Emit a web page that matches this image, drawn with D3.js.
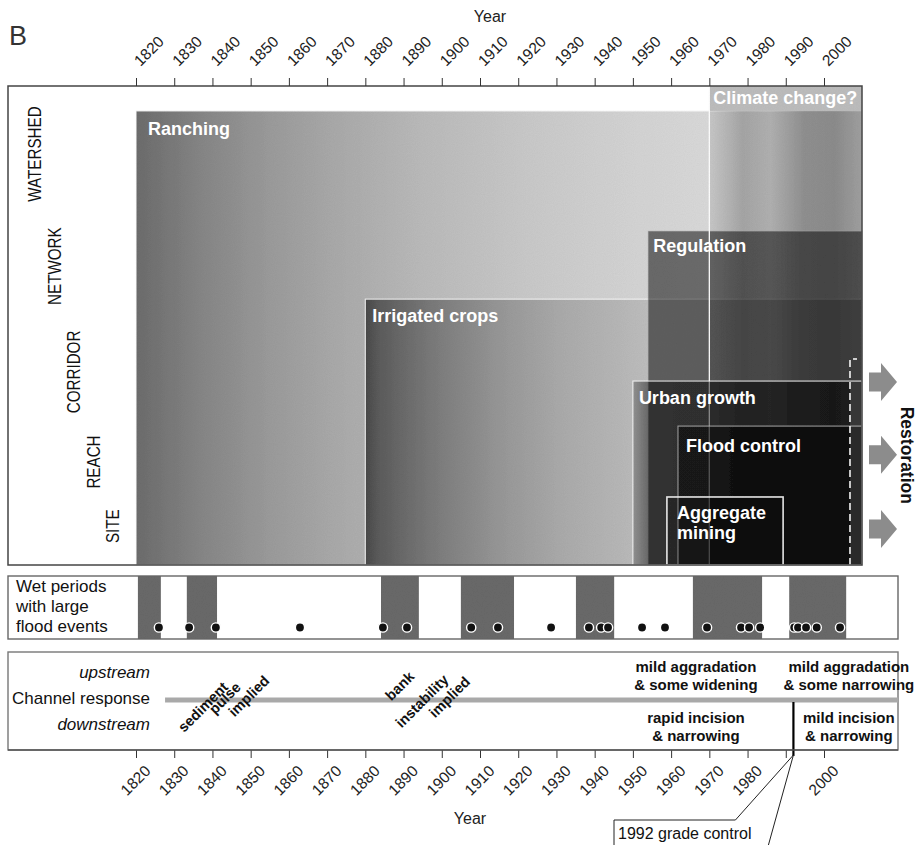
<!DOCTYPE html>
<html>
<head>
<meta charset="utf-8">
<script src="https://cdn.jsdelivr.net/npm/d3@7"></script>
<style>
  body { margin: 0; background: #fff; }
  svg { display: block; }
  text { font-family: "Liberation Sans", Arial, sans-serif; }
</style>
</head>
<body>
<script>
// ---- data ----
const tickYears = [1820, 1830, 1840, 1850, 1860, 1870, 1880, 1890, 1900, 1910,
                   1920, 1930, 1940, 1950, 1960, 1970, 1980, 1990, 2000];
const bottomHidden = [1990];

// spatial scale levels, 0 = site ... 100 = watershed
const levels = ["WATERSHED", "NETWORK", "CORRIDOR", "REACH", "SITE"];
const levelPos = [85.8, 62.4, 40.3, 21.5, 8.1];

// drivers of change: start year, end year (null = still going), spatial extent
const drivers = ["Ranching", "Irrigated crops", "Climate change?", "Regulation",
                 "Urban growth", "Flood control", "Aggregate mining"];
const driverStart = [1820, 1880, 1970, 1954, 1950, 1961.8, 1958.9];
const driverEnd = [null, null, null, null, null, null, 1989.3];
const driverExtent = [94.8, 55.5, 100, 69.7, 38.4, 29.0, 14.2];

const restorationStart = 2006.8;
const restorationExtent = 43.0;
const restorationArrows = [38.2, 23.0, 7.5];

// wet periods and large floods
const wetStart = [1820.5, 1833.3, 1884.1, 1905.0, 1935.1, 1965.7, 1990.9];
const wetEnd = [1826.5, 1841.2, 1894.0, 1918.9, 1945.1, 1983.8, 2005.8];
const floodYears = [1826.0, 1833.9, 1840.9, 1862.9, 1884.6, 1890.9, 1907.7, 1914.7,
                    1928.6, 1938.5, 1941.7, 1943.5, 1952.4, 1958.4, 1969.4, 1978.3,
                    1980.4, 1983.3, 1992.2, 1993.2, 1995.3, 1998.1, 2004.2];

// channel response
const channelStart = 1827.6;
const gradeControlYear = 1992;
const impliedWords = ["sediment", "pulse", "implied", "bank", "instability", "implied"];
const impliedYears = [1837.5, 1843.2, 1849.5, 1889, 1894.8, 1902];
const responseYears = [1966.5, 2006.5];
const responseUp = [["mild aggradation", "& some widening"], ["mild aggradation", "& some narrowing"]];
const responseDown = [["rapid incision", "& narrowing"], ["mild incision", "& narrowing"]];

// ---- layout ----
const W = 918, H = 845;
const main = {left: 8, right: 862, top: 86, bottom: 565};
const wet = {top: 576, bottom: 639};
const chan = {top: 652, bottom: 750, line: 700};
const lowerRight = 898;

const x = d3.scaleLinear().domain([1820, 2000]).range([136, 824]);
const y = d3.scaleLinear().domain([0, 100]).range([main.bottom, main.top]);
const ongoing = x.invert(main.right);

const svg = d3.select("body").append("svg")
  .attr("width", W)
  .attr("height", H);

const defs = svg.append("defs");
function grad(id, stops) {
  const g = defs.append("linearGradient").attr("id", id);
  stops.forEach(s => g.append("stop")
    .attr("offset", s[0]).attr("stop-color", s[1]).attr("stop-opacity", s[2] == null ? 1 : s[2]));
}
grad("g-ranch", [[0, "#6d6d6d"], [0.09, "#878787"], [0.18, "#9b9b9b"], [0.27, "#aaaaaa"],
                 [0.4, "#bcbcbc"], [0.55, "#cbcbcb"], [0.69, "#d5d5d5"], [0.79, "#dadada"], [1, "#dcdcdc"]]);
grad("g-irr", [[0, "#4a4a4a"], [0.025, "#5c5c5c"], [0.07, "#6a6a6a"], [0.15, "#7f7f7f"],
               [0.27, "#989898"], [0.39, "#ababab"], [0.51, "#b8b8b8"], [0.57, "#bfbfbf"], [1, "#b4b4b4"]]);
grad("g-clim", [[0, "#000", 0.08], [0.22, "#000", 0.24], [0.4, "#000", 0.19],
                [0.62, "#000", 0.34], [0.82, "#000", 0.36], [1, "#000", 0.27]]);
grad("g-urban", [[0, "#000", 0.22], [0.07, "#000", 0.45], [1, "#000", 0.47]]);

// texture noise like the printed figure
const noise = defs.append("filter").attr("id", "noise");
noise.append("feTurbulence").attr("type", "fractalNoise").attr("baseFrequency", 0.9)
  .attr("numOctaves", 1).attr("result", "n");
noise.append("feColorMatrix").attr("in", "n").attr("type", "matrix")
  .attr("values", "0 0 0 0 0  0 0 0 0 0  0 0 0 0 0  0 0 0 0.09 0").attr("result", "na");
noise.append("feComposite").attr("in", "na").attr("in2", "SourceGraphic").attr("operator", "in").attr("result", "nm");
noise.append("feMerge").selectAll("feMergeNode").data(["SourceGraphic", "nm"]).join("feMergeNode").attr("in", d => d);

const style = {
  "Ranching":          {fill: "url(#g-ranch)", stroke: "#fff", so: 0.9, lx: 12, ly: 24},
  "Irrigated crops":   {fill: "url(#g-irr)", stroke: "#fff", so: 0.85, lx: 7, ly: 23},
  "Climate change?":   {fill: "url(#g-clim)", stroke: "none", so: 0, lx: 4, ly: 18},
  "Regulation":        {fill: "#000", fo: 0.5, stroke: "#aaa", so: 0.4, lx: 5, ly: 21},
  "Urban growth":      {fill: "url(#g-urban)", stroke: "#fff", so: 0.85, lx: 6, ly: 23},
  "Flood control":     {fill: "#000", fo: 0.38, stroke: "#ccc", so: 0.7, lx: 8, ly: 26},
  "Aggregate mining":  {fill: "#000", fo: 0.15, stroke: "#fff", so: 0.9, lx: 10, ly: 22}
};

const boxes = drivers.map((d, i) => ({
  name: d,
  x0: x(driverStart[i]),
  x1: x(driverEnd[i] == null ? ongoing : driverEnd[i]),
  y0: y(driverExtent[i])
}));

const gMain = svg.append("g").attr("filter", "url(#noise)");
const climate = boxes.find(b => b.name === "Climate change?");
const ranch = boxes.find(b => b.name === "Ranching");

boxes.forEach(b => {
  const s = style[b.name];
  if (b.name === "Climate change?") {
    // label band above ranching, then the overlay
    gMain.append("rect")
      .attr("x", b.x0).attr("y", b.y0)
      .attr("width", b.x1 - b.x0).attr("height", ranch.y0 - b.y0)
      .attr("fill", "#bebebe");
    gMain.append("rect")
      .attr("x", b.x0).attr("y", ranch.y0)
      .attr("width", b.x1 - b.x0).attr("height", main.bottom - ranch.y0)
      .attr("fill", s.fill);
    return;
  }
  gMain.append("rect")
    .attr("x", b.x0).attr("y", b.y0)
    .attr("width", b.x1 - b.x0).attr("height", main.bottom - b.y0)
    .attr("fill", s.fill)
    .attr("fill-opacity", s.fo == null ? 1 : s.fo)
    .attr("stroke", s.stroke)
    .attr("stroke-opacity", s.so)
    .attr("stroke-width", b.name === "Aggregate mining" ? 1.6 : 1.1);
  if (b.name === "Regulation") {
    // left edge of the climate-change window shows through
    gMain.append("line")
      .attr("x1", climate.x0).attr("x2", climate.x0)
      .attr("y1", main.top).attr("y2", main.bottom)
      .attr("stroke", "#fff").attr("stroke-width", 1.3);
  }
});

// restoration window
const rx = x(restorationStart), ry = y(restorationExtent);
svg.append("rect")
  .attr("x", rx).attr("y", ry + 22)
  .attr("width", main.right - rx).attr("height", main.bottom - ry - 22)
  .attr("fill", "#fff").attr("fill-opacity", 0.12);
svg.append("path")
  .attr("d", `M${rx},${main.bottom}V${ry}H${rx + 7}`)
  .attr("fill", "none").attr("stroke", "#fff")
  .attr("stroke-width", 1.5).attr("stroke-dasharray", "7,4");

// driver labels
boxes.forEach(b => {
  const s = style[b.name];
  const words = b.name === "Aggregate mining" ? ["Aggregate", "mining"] : [b.name];
  words.forEach((w, i) => svg.append("text")
    .attr("x", b.x0 + s.lx).attr("y", b.y0 + s.ly + i * 20)
    .attr("fill", "#fff").attr("font-weight", "bold").attr("font-size", 18)
    .text(w));
});

// main frame
svg.append("rect")
  .attr("x", main.left).attr("y", main.top)
  .attr("width", main.right - main.left).attr("height", main.bottom - main.top)
  .attr("fill", "none").attr("stroke", "#444").attr("stroke-width", 1.5);

// spatial level labels (staircase)
levels.forEach((l, i) => {
  const t = svg.append("text")
    .attr("transform", `translate(${41 + i * 19.5},${y(levelPos[i])}) rotate(-90)`)
    .attr("text-anchor", "middle")
    .attr("font-family", "'Open Sans', sans-serif")
    .attr("font-size", 19).attr("fill", "#111")
    .text(l);
  const len = t.node().getComputedTextLength();
  t.attr("textLength", len * 0.8).attr("lengthAdjust", "spacingAndGlyphs");
});

// restoration arrows
restorationArrows.forEach(v => {
  const cy = y(v), ax = main.right + 7;
  svg.append("path")
    .attr("d", `M${ax},${cy - 9.5}H${ax + 12}V${cy - 19}L${ax + 28},${cy}L${ax + 12},${cy + 19}V${cy + 9.5}H${ax}Z`)
    .attr("fill", "#8c8c8c");
});
svg.append("text")
  .attr("transform", `translate(901,${y(d3.mean(restorationArrows))}) rotate(90)`)
  .attr("text-anchor", "middle")
  .attr("font-weight", "bold").attr("font-size", 17.5).attr("fill", "#111")
  .text("Restoration");

// top axis
const axTop = svg.append("g")
  .attr("transform", `translate(0,${main.top})`)
  .call(d3.axisTop(x).tickValues(tickYears).tickSize(8).tickFormat(d3.format("d")));
axTop.select(".domain").remove();
axTop.selectAll("line").attr("stroke", "#333");
axTop.selectAll("text")
  .attr("x", null).attr("y", null).attr("dy", null)
  .attr("text-anchor", "start")
  .attr("transform", "translate(4,-19) rotate(-45)")
  .attr("font-size", 15.5).attr("fill", "#222")
  .attr("font-family", "'Liberation Sans', Arial, sans-serif");

svg.append("text")
  .attr("x", 490).attr("y", 22)
  .attr("text-anchor", "middle").attr("font-size", 16).attr("fill", "#222")
  .text("Year");
svg.append("text")
  .attr("x", 9).attr("y", 45)
  .attr("font-family", "'Open Sans', sans-serif")
  .attr("font-size", 27).attr("fill", "#333")
  .text("B");

// wet periods panel
const gWet = svg.append("g");
gWet.selectAll("rect.wet")
  .data(wetStart.map((s, i) => [s, wetEnd[i]]))
  .join("rect")
  .attr("class", "wet")
  .attr("x", d => x(d[0])).attr("width", d => x(d[1]) - x(d[0]))
  .attr("y", wet.top).attr("height", wet.bottom - wet.top)
  .attr("fill", "#6a6a6a")
  .attr("filter", "url(#noise)");
gWet.selectAll("circle")
  .data(floodYears)
  .join("circle")
  .attr("cx", d => x(d)).attr("cy", 627.5).attr("r", 4.6)
  .attr("fill", "#111").attr("stroke", "#fff").attr("stroke-width", 1.4);
gWet.append("rect")
  .attr("x", main.left).attr("y", wet.top)
  .attr("width", lowerRight - main.left).attr("height", wet.bottom - wet.top)
  .attr("fill", "none").attr("stroke", "#666").attr("stroke-width", 1.4);
["Wet periods", "with large", "flood events"].forEach((s, i) =>
  gWet.append("text").attr("x", 16).attr("y", 592 + i * 20)
    .attr("font-size", 17).attr("fill", "#111").text(s));

// channel response panel
const gCh = svg.append("g");
gCh.append("rect")
  .attr("x", main.left).attr("y", chan.top)
  .attr("width", lowerRight - main.left).attr("height", chan.bottom - chan.top)
  .attr("fill", "none").attr("stroke", "#777").attr("stroke-width", 1.4);
gCh.append("line")
  .attr("x1", x(channelStart)).attr("x2", lowerRight)
  .attr("y1", chan.line).attr("y2", chan.line)
  .attr("stroke", "#a9a9a9").attr("stroke-width", 5);
[["upstream", -22, "italic"], ["Channel response", 4, "normal"], ["downstream", 30, "italic"]]
  .forEach(r => gCh.append("text")
    .attr("x", 150).attr("y", chan.line + r[1])
    .attr("text-anchor", "end").attr("font-size", 17)
    .attr("font-style", r[2]).attr("fill", "#111")
    .text(r[0]));

const impliedDy = [7, -2, -4, -14, 1, -3];
impliedWords.forEach((w, i) => {
  gCh.append("text")
    .attr("transform", `translate(${x(impliedYears[i])},${chan.line + impliedDy[i]}) rotate(-45)`)
    .attr("text-anchor", "middle").attr("dy", "0.35em")
    .attr("font-size", 14.5).attr("font-weight", "bold").attr("fill", "#111")
    .text(w);
});

responseYears.forEach((yr, i) => {
  [[responseUp[i], chan.line - 28], [responseDown[i], chan.line + 23]].forEach(([lines, y0]) => {
    lines.forEach((s, j) => gCh.append("text")
      .attr("x", x(yr)).attr("y", y0 + j * 17.5)
      .attr("text-anchor", "middle").attr("font-size", 15)
      .attr("font-weight", "bold").attr("fill", "#111")
      .text(s));
  });
});

// grade control marker and callout
const gx = x(gradeControlYear);
gCh.append("line")
  .attr("x1", gx).attr("x2", gx)
  .attr("y1", chan.line + 2).attr("y2", chan.bottom + 6)
  .attr("stroke", "#000").attr("stroke-width", 2.2);
gCh.append("path")
  .attr("d", `M${gx},${chan.bottom + 5}L${gx - 58},820H614V845M${gx},${chan.bottom + 5}L${gx - 25},845`)
  .attr("fill", "none").attr("stroke", "#222").attr("stroke-width", 1);
gCh.append("text")
  .attr("x", 618).attr("y", 839)
  .attr("font-size", 16).attr("fill", "#111")
  .text("1992 grade control");

// bottom axis
const axBot = svg.append("g")
  .attr("transform", `translate(0,${chan.bottom})`)
  .call(d3.axisBottom(x).tickValues(tickYears).tickSize(8)
    .tickFormat(d => bottomHidden.includes(d) ? "" : d3.format("d")(d)));
axBot.select(".domain").remove();
axBot.selectAll("line").attr("stroke", "#333");
axBot.selectAll("text")
  .attr("x", null).attr("y", null).attr("dy", null)
  .attr("text-anchor", "end")
  .attr("transform", "translate(15,22) rotate(-45)")
  .attr("font-size", 15.5).attr("fill", "#222")
  .attr("font-family", "'Liberation Sans', Arial, sans-serif");
svg.append("line")
  .attr("x1", main.left).attr("x2", lowerRight)
  .attr("y1", chan.bottom).attr("y2", chan.bottom)
  .attr("stroke", "#555").attr("stroke-width", 1.5);

svg.append("text")
  .attr("x", 470).attr("y", 824)
  .attr("text-anchor", "middle").attr("font-size", 16).attr("fill", "#222")
  .text("Year");
</script>
</body>
</html>
